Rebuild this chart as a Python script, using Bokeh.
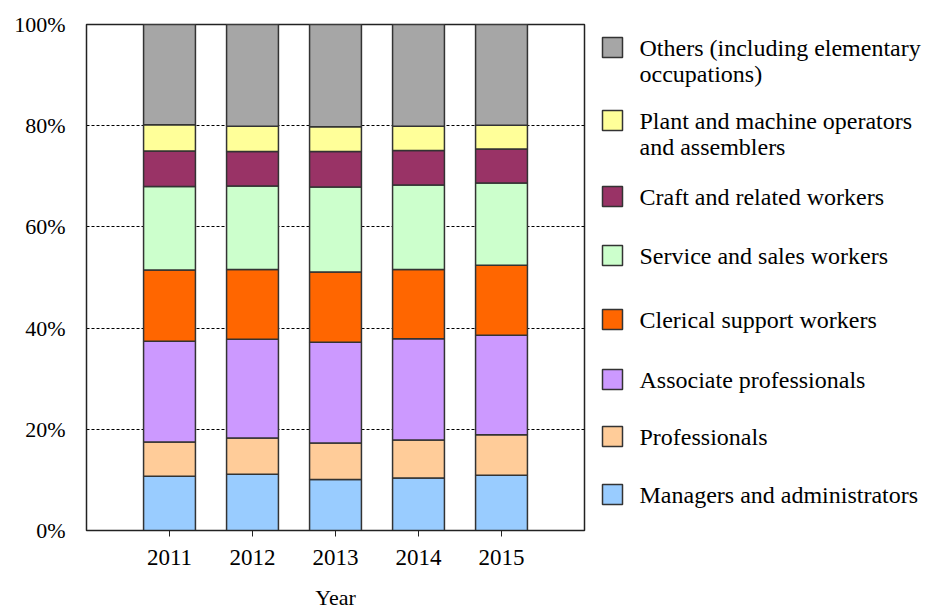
from bokeh.plotting import figure
from bokeh.models import ColumnDataSource, FixedTicker, PrintfTickFormatter, Range1d
from bokeh.layouts import row
from bokeh.embed import file_html
from bokeh.resources import INLINE
from bokeh.core.properties import value

years = [2011, 2012, 2013, 2014, 2015]
categories = [
    "Managers and administrators",
    "Professionals",
    "Associate professionals",
    "Clerical support workers",
    "Service and sales workers",
    "Craft and related workers",
    "Plant and machine operators\nand assemblers",
    "Others (including elementary\noccupations)",
]
managers = [10.7, 11.1, 10.1, 10.4, 10.9]
professionals = [6.8, 7.2, 7.2, 7.5, 8.0]
associate = [19.9, 19.5, 19.9, 20.0, 19.7]
clerical = [14.1, 13.8, 13.9, 13.7, 13.8]
service = [16.5, 16.5, 16.8, 16.7, 16.3]
craft = [7.0, 6.8, 7.0, 6.8, 6.7]
plant = [5.2, 5.0, 4.9, 4.8, 4.7]
others = [19.8, 20.1, 20.2, 20.1, 19.9]
colors = ["#99CCFF", "#FFCC99", "#CC99FF", "#FF6600", "#CCFFCC", "#993366", "#FFFF99", "#A6A6A6"]
y_ticks = [0, 20, 40, 60, 80, 100]
x_label = "Year"

FONT = "Liberation Serif"
keys = ["managers", "professionals", "associate", "clerical", "service", "craft", "plant", "others"]
series = [managers, professionals, associate, clerical, service, craft, plant, others]
data = {"year": years}
for k, s in zip(keys, series):
    data[k] = s
source = ColumnDataSource(data)

H = 612
MW = 590
p = figure(width=MW, height=H, x_range=Range1d(2010.0, 2016.0), y_range=Range1d(0, 100),
           output_backend="svg", toolbar_location=None,
           min_border_left=86, min_border_top=24, min_border_right=6, min_border_bottom=10)
p.vbar_stack(keys, x="year", width=0.625, color=colors, line_color="#333333",
             line_width=1.5, source=source)

p.outline_line_color = "#222222"
p.outline_line_width = 1.5
p.xgrid.grid_line_color = None
p.ygrid.ticker = FixedTicker(ticks=[20, 40, 60, 80])
p.ygrid.grid_line_color = "black"
p.ygrid.grid_line_dash = "3 2"
p.ygrid.grid_line_width = 1

p.yaxis.ticker = FixedTicker(ticks=y_ticks)
p.yaxis.formatter = PrintfTickFormatter(format="%d%%")
p.yaxis.major_tick_line_color = None
p.yaxis.minor_tick_line_color = None
p.yaxis.axis_line_color = "#222222"
p.yaxis.major_label_standoff = 15
p.yaxis.major_label_text_font = FONT
p.yaxis.major_label_text_font_size = "22px"
p.yaxis.major_label_text_color = "black"

p.xaxis.ticker = FixedTicker(ticks=years)
p.xaxis.major_tick_in = 0
p.xaxis.major_tick_out = 6
p.xaxis.major_tick_line_color = "#222222"
p.xaxis.minor_tick_line_color = None
p.xaxis.axis_line_color = "#222222"
p.xaxis.major_label_standoff = 13
p.xaxis.major_label_text_font = FONT
p.xaxis.major_label_text_font_size = "23px"
p.xaxis.major_label_text_color = "black"
p.xaxis.axis_label = x_label
p.xaxis.axis_label_text_font = FONT
p.xaxis.axis_label_text_font_size = "22px"
p.xaxis.axis_label_text_font_style = "normal"
p.xaxis.axis_label_text_color = "black"
p.xaxis.axis_label_standoff = 17

# legend panel (its frame is aligned with the chart frame: y from 24 to 530 px)
LW = 926 - MW
lg = figure(width=LW, height=H, x_range=Range1d(0, LW), y_range=Range1d(530, 24),
            output_backend="svg", toolbar_location=None,
            x_axis_location=None, y_axis_location=None, min_border=0)
lg.outline_line_color = None
lg.xgrid.grid_line_color = None
lg.ygrid.grid_line_color = None

entry_y = [494, 436, 379, 319, 255, 196, 120, 47]  # layout positions of legend rows
sq_x, sq_size, txt_x, line_h = 22, 20, 49, 26
lg.rect(x=[sq_x] * len(categories), y=entry_y, width=sq_size, height=sq_size,
        fill_color=colors, line_color="#333333", line_width=1.5)
tx, ty, tt = [], [], []
for lab, yy in zip(categories, entry_y):
    for i, ln in enumerate(lab.split("\n")):
        tx.append(txt_x)
        ty.append(yy + i * line_h)
        tt.append(ln)
lg.text(x=tx, y=ty, text=tt, text_font=value(FONT), text_font_size="24px",
        text_baseline="middle", text_align="left", text_color="black")

layout = row(p, lg)
open("out.html", "w").write(file_html(layout, INLINE))
